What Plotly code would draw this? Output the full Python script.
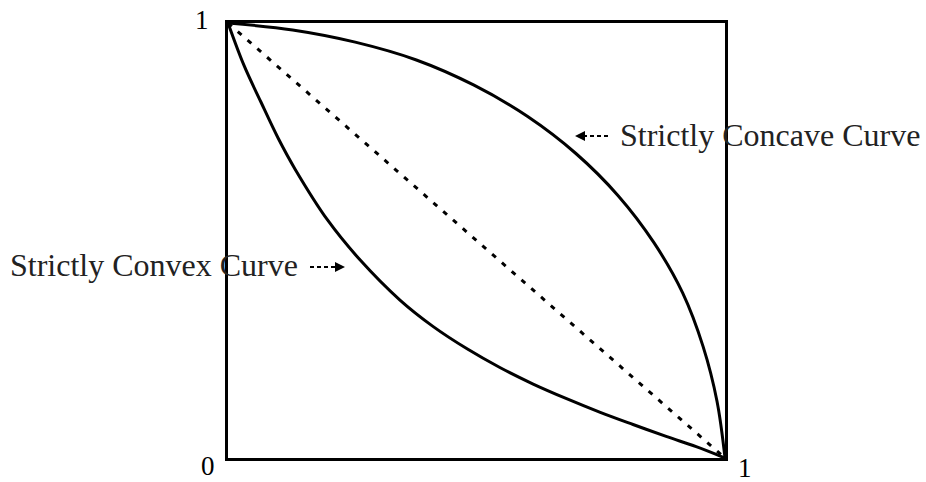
import plotly.graph_objects as go

# points (x, y in unit square)
concave_x = [0.0, 0.130, 0.256, 0.379, 0.495, 0.603, 0.700, 0.785, 0.857, 0.915, 0.956, 0.984, 1.0]
concave_y = [1.0, 0.984, 0.956, 0.915, 0.857, 0.785, 0.700, 0.603, 0.495, 0.379, 0.256, 0.130, 0.0]

convex_x = [0.0, 0.032, 0.066, 0.101, 0.135, 0.201, 0.266, 0.346, 0.413, 0.481,
            0.547, 0.614, 0.680, 0.749, 0.815, 0.883, 0.942, 1.0]
convex_y = [1.0, 0.903, 0.819, 0.735, 0.664, 0.546, 0.455, 0.363, 0.302, 0.251,
            0.208, 0.170, 0.137, 0.105, 0.077, 0.049, 0.026, 0.0]

diag_x = [0.0, 1.0]
diag_y = [1.0, 0.0]

corner_labels = ["1", "0", "1"]
curve_labels = ["Strictly Concave Curve", "Strictly Convex Curve"]

W, H = 926, 482
L, R, T, B = 228, 201, 23, 24
PW, PH = W - L - R, H - T - B


def px(x):
    return (x - L) / PW


def py(y):
    return (H - B - y) / PH


FONT = "Liberation Serif, Times New Roman, serif"

fig = go.Figure()
fig.add_trace(go.Scatter(x=diag_x, y=diag_y, mode="lines",
                         line=dict(color="black", width=3, dash="5px,8px")))
for xs, ys in [(concave_x, concave_y), (convex_x, convex_y)]:
    fig.add_trace(go.Scatter(x=xs, y=ys, mode="lines",
                             line=dict(color="black", width=3, shape="spline",
                                       smoothing=1.0, simplify=False)))

# corner labels
for txt, (cx, cy) in zip(corner_labels, [(202, 20), (208, 466), (745, 468)]):
    fig.add_annotation(x=px(cx), y=py(cy), xref="paper", yref="paper", text=txt,
                       showarrow=False, xanchor="center", yanchor="middle",
                       font=dict(family=FONT, size=27, color="black"))

# curve labels with dashed arrows
label_pos = [(618, 135, 608, 578, 136), (8, 265, 310, 342, 267)]
for txt, (tx, ty, x0, x1, ay) in zip(curve_labels, label_pos):
    fig.add_annotation(x=px(tx), y=py(ty), xref="paper", yref="paper", text=txt,
                       showarrow=False, xanchor="left", yanchor="middle",
                       font=dict(family=FONT, size=32, color="#222"))
    fig.add_shape(type="line", xref="paper", yref="paper",
                  x0=px(x0), x1=px(x1), y0=py(ay), y1=py(ay),
                  line=dict(color="black", width=2, dash="4px,3px"))
    d = 1 if x1 > x0 else -1
    fig.add_annotation(x=px(x1 + 3 * d), y=py(ay), xref="paper", yref="paper", text="",
                       showarrow=True, arrowhead=2, arrowsize=1, arrowwidth=2,
                       arrowcolor="black", ax=-8 * d, ay=0)

fig.update_xaxes(range=[0, 1], showgrid=False, zeroline=False, showticklabels=False,
                 ticks="", showline=True, mirror=True, linecolor="black", linewidth=3)
fig.update_yaxes(range=[0, 1], showgrid=False, zeroline=False, showticklabels=False,
                 ticks="", showline=True, mirror=True, linecolor="black", linewidth=3)
fig.update_layout(width=W, height=H, margin=dict(l=L, r=R, t=T, b=B),
                  plot_bgcolor="white", paper_bgcolor="white", showlegend=False)

fig.write_html("out.html", config={"displayModeBar": False},
               post_script="document.body.style.margin='0';")
